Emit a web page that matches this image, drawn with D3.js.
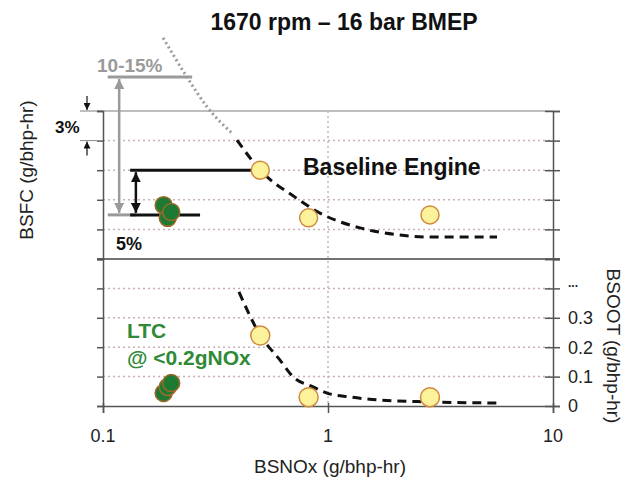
<!DOCTYPE html>
<html><head><meta charset="utf-8">
<script src="https://cdn.jsdelivr.net/npm/d3@7"></script>
<style>body{margin:0;background:#fff}svg{display:block;font-family:"Liberation Sans",Arial,sans-serif}</style>
</head><body><svg id="c" width="641" height="479"></svg>
<script>
// ---- data ----
const xTicks = [0.1, 1, 10];
const xTickLabels = ["0.1", "1", "10"];
const bsfcGrid = [0.31, 0.32, 0.33, 0.34, 0.35, 0.36];
const sootTicks = [0, 0.1, 0.2, 0.3, 0.4, 0.5];
const sootTickLabels = ["0", "0.1", "0.2", "0.3", "...", ""];
// baseline engine points
const baseNox = [0.5, 0.82, 2.84];
const baseBsfc = [0.340, 0.3239, 0.3249];
const baseSoot = [0.24, 0.03, 0.03];
// LTC points
const ltcNox = [0.186, 0.194, 0.201];
const ltcBsfc = [0.3282, 0.3239, 0.3259];
const ltcSoot = [0.044, 0.065, 0.078];
// trend curves
const bsfcCurveNox = [0.394, 0.5, 0.713, 0.921, 1.388, 2.09, 2.93, 5.64];
const bsfcCurveVal = [0.3502, 0.340, 0.3309, 0.3255, 0.3205, 0.3181, 0.3174, 0.3174];
const convCurveNox = [0.185, 0.236, 0.290, 0.378];
const convCurveVal = [0.3847, 0.3715, 0.3614, 0.3522];
const sootCurveNox = [0.402, 0.5, 0.612, 0.70, 0.858, 0.99, 1.25, 1.70, 2.84, 5.8];
const sootCurveVal = [0.388, 0.241, 0.156, 0.099, 0.065, 0.044, 0.031, 0.020, 0.014, 0.010];
// annotation levels
const convLevel = 0.3715;   // 10-15% level
const baseLevel = 0.340;
const ltcLevel = 0.3249;

// ---- scales ----
const svg = d3.select("#c");
svg.append("rect").attr("width", 641).attr("height", 479).attr("fill", "#fff");
const x = d3.scaleLog().domain([0.1, 10]).range([103, 553]);
const yT = d3.scaleLinear().domain([0.31, 0.36]).range([259, 111]);
const yB = d3.scaleLinear().domain([0, 0.5]).range([406, 259]);

const defs = svg.append("defs");
function mk(id, col, s) {
  defs.append("marker").attr("id", id).attr("viewBox", "0 0 10 10").attr("refX", 10).attr("refY", 5)
    .attr("markerWidth", s).attr("markerHeight", s).attr("markerUnits", "userSpaceOnUse").attr("orient", "auto-start-reverse")
    .append("path").attr("d", "M0,0L10,5L0,10Z").attr("fill", col);
}
mk("ag", "#9a9a9a", 10); mk("ab", "#111", 10); mk("as", "#111", 7);

// ---- grid ----
const gridCol = "#c9b1b1";
svg.append("g").selectAll("line").data(bsfcGrid.slice(1, 5)).join("line")
  .attr("x1", x(0.1)).attr("x2", x(10)).attr("y1", d => yT(d)).attr("y2", d => yT(d))
  .attr("stroke", gridCol).attr("stroke-width", 1.5).attr("stroke-dasharray", "2,3");
svg.append("g").selectAll("line").data(sootTicks.slice(1, 5)).join("line")
  .attr("x1", x(0.1)).attr("x2", x(10)).attr("y1", d => yB(d)).attr("y2", d => yB(d))
  .attr("stroke", gridCol).attr("stroke-width", 1.5).attr("stroke-dasharray", "2,3");
svg.append("line").attr("x1", x(1)).attr("x2", x(1)).attr("y1", yT(0.36)).attr("y2", yB(0))
  .attr("stroke", gridCol).attr("stroke-width", 1.5).attr("stroke-dasharray", "2,3");

// top border
svg.append("line").attr("x1", 80).attr("x2", x(10)).attr("y1", yT(0.36)).attr("y2", yT(0.36))
  .attr("stroke", "#a8a8a8").attr("stroke-width", 1.5);
// divider
svg.append("line").attr("x1", 97).attr("x2", 560).attr("y1", yT(0.31)).attr("y2", yT(0.31))
  .attr("stroke", "#444").attr("stroke-width", 1.5);

// ---- axes ----
const axCol = "#555";
const gl = svg.append("g").attr("transform", `translate(${x(0.1)},0)`)
  .call(d3.axisLeft(yT).tickValues(bsfcGrid).tickSize(6).tickFormat(""));
const gl2 = svg.append("g").attr("transform", `translate(${x(0.1)},0)`)
  .call(d3.axisLeft(yB).tickValues(sootTicks).tickSize(6).tickFormat(""));
const gr = svg.append("g").attr("transform", `translate(${x(10)},0)`)
  .call(d3.axisRight(yT).tickValues(bsfcGrid).tickSize(7).tickFormat(""));
const gr2 = svg.append("g").attr("transform", `translate(${x(10)},0)`)
  .call(d3.axisRight(yB).tickValues(sootTicks).tickSize(7).tickFormat(""));
[gr, gr2].forEach(g => g.selectAll(".tick line").attr("x1", -8));
const gb = svg.append("g").attr("transform", `translate(0,${yB(0)})`)
  .call(d3.axisBottom(x).tickValues(xTicks).tickSize(7).tickFormat(""));
[gl, gl2, gr, gr2, gb].forEach(g => {
  g.selectAll("path.domain").attr("stroke", axCol).attr("stroke-width", 1.5);
  g.selectAll(".tick line").attr("stroke", axCol).attr("stroke-width", 1.5);
});
gb.selectAll(".tick line").attr("y1", -3);
// tick labels
svg.append("g").selectAll("text").data(xTicks).join("text")
  .attr("x", d => x(d)).attr("y", 442).attr("text-anchor", "middle")
  .attr("font-size", 18).attr("fill", "#222").text((d, i) => xTickLabels[i]);
svg.append("g").selectAll("text").data(sootTicks).join("text")
  .attr("x", 568).attr("y", d => yB(d)).attr("dy", d => d === 0.4 ? "-0.1em" : "0.35em")
  .attr("font-size", d => d === 0.4 ? 12 : 18).attr("font-weight", d => d === 0.4 ? "bold" : "normal")
  .attr("fill", "#222").text((d, i) => sootTickLabels[i]);

// axis titles
svg.append("text").attr("x", 330).attr("y", 473).attr("text-anchor", "middle").attr("font-size", 19)
  .attr("fill", "#222").text("BSNOx (g/bhp-hr)");
svg.append("text").attr("transform", "translate(26,170) rotate(-90)").attr("text-anchor", "middle")
  .attr("dy", "0.35em").attr("font-size", 19).attr("fill", "#222").text("BSFC (g/bhp-hr)");
svg.append("text").attr("transform", "translate(614,346) rotate(90)").attr("text-anchor", "middle")
  .attr("dy", "0.35em").attr("font-size", 19).attr("fill", "#222").text("BSOOT (g/bhp-hr)");
svg.append("text").attr("x", 344).attr("y", 30).attr("text-anchor", "middle").attr("font-size", 23)
  .attr("font-weight", "bold").attr("fill", "#111").text("1670 rpm \u2013 16 bar BMEP");

// ---- curves ----
const lineT = d3.line().x(d => x(d[0])).y(d => yT(d[1])).curve(d3.curveMonotoneX);
const lineB = d3.line().x(d => x(d[0])).y(d => yB(d[1])).curve(d3.curveMonotoneX);
svg.append("path").attr("d", lineT(convCurveNox.map((v, i) => [v, convCurveVal[i]])))
  .attr("fill", "none").attr("stroke", "#9a9a9a").attr("stroke-width", 3).attr("stroke-dasharray", "2,3");
svg.append("path").attr("d", lineT(bsfcCurveNox.map((v, i) => [v, bsfcCurveVal[i]])))
  .attr("fill", "none").attr("stroke", "#111").attr("stroke-width", 3).attr("stroke-dasharray", "9,6");
svg.append("path").attr("d", lineB(sootCurveNox.map((v, i) => [v, sootCurveVal[i]])))
  .attr("fill", "none").attr("stroke", "#111").attr("stroke-width", 3).attr("stroke-dasharray", "9,6");

// ---- annotations ----
// grey 10-15%
svg.append("line").attr("x1", x(0.105)).attr("x2", x(0.249)).attr("y1", yT(convLevel)).attr("y2", yT(convLevel))
  .attr("stroke", "#9a9a9a").attr("stroke-width", 3);
svg.append("line").attr("x1", x(0.105)).attr("x2", x(0.14)).attr("y1", yT(ltcLevel)).attr("y2", yT(ltcLevel))
  .attr("stroke", "#9a9a9a").attr("stroke-width", 3);
svg.append("line").attr("x1", x(0.118)).attr("x2", x(0.118)).attr("y1", yT(convLevel) + 2).attr("y2", yT(ltcLevel) - 2)
  .attr("stroke", "#9a9a9a").attr("stroke-width", 2.5)
  .attr("marker-start", "url(#ag)").attr("marker-end", "url(#ag)");
svg.append("text").attr("x", 97).attr("y", 72).attr("font-size", 19).attr("font-weight", "bold")
  .attr("fill", "#9a9a9a").text("10-15%");
// black 5%
svg.append("line").attr("x1", x(0.132)).attr("x2", x(0.5)).attr("y1", yT(baseLevel)).attr("y2", yT(baseLevel))
  .attr("stroke", "#111").attr("stroke-width", 3);
svg.append("line").attr("x1", x(0.132)).attr("x2", x(0.27)).attr("y1", yT(ltcLevel)).attr("y2", yT(ltcLevel))
  .attr("stroke", "#111").attr("stroke-width", 3);
svg.append("line").attr("x1", x(0.14)).attr("x2", x(0.14)).attr("y1", yT(baseLevel) + 2).attr("y2", yT(ltcLevel) - 2)
  .attr("stroke", "#111").attr("stroke-width", 2.5)
  .attr("marker-start", "url(#ab)").attr("marker-end", "url(#ab)");
svg.append("text").attr("x", 116).attr("y", 250).attr("font-size", 18).attr("font-weight", "bold")
  .attr("fill", "#111").text("5%");
// 3%
svg.append("line").attr("x1", 80).attr("x2", 97).attr("y1", yT(0.35)).attr("y2", yT(0.35))
  .attr("stroke", "#888").attr("stroke-width", 1);
svg.append("line").attr("x1", 87).attr("x2", 87).attr("y1", yT(0.36) - 15).attr("y2", yT(0.36) - 1)
  .attr("stroke", "#111").attr("stroke-width", 1.2).attr("marker-end", "url(#as)");
svg.append("line").attr("x1", 87).attr("x2", 87).attr("y1", yT(0.35) + 15).attr("y2", yT(0.35) + 1)
  .attr("stroke", "#111").attr("stroke-width", 1.2).attr("marker-end", "url(#as)");
svg.append("text").attr("x", 55).attr("y", 133).attr("font-size", 17).attr("font-weight", "bold")
  .attr("fill", "#111").text("3%");

svg.append("text").attr("x", 303).attr("y", 175).attr("font-size", 23).attr("font-weight", "bold")
  .attr("fill", "#111").text("Baseline Engine");
svg.append("text").attr("x", 127).attr("y", 338).attr("font-size", 21).attr("font-weight", "bold")
  .attr("fill", "#2f8a36").text("LTC");
svg.append("text").attr("x", 127).attr("y", 365).attr("font-size", 21).attr("font-weight", "bold")
  .attr("fill", "#2f8a36").text("@ <0.2gNOx");

// ---- points ----
const yFill = "#fbf29b", yStroke = "#d08a40", gFill = "#1e7a33", gStroke = "#9a6a2a";
svg.append("g").selectAll("circle").data(ltcNox).join("circle")
  .attr("cx", d => x(d)).attr("cy", (d, i) => yT(ltcBsfc[i])).attr("r", 8.5)
  .attr("fill", gFill).attr("stroke", gStroke).attr("stroke-width", 1.5);
svg.append("g").selectAll("circle").data(ltcNox).join("circle")
  .attr("cx", d => x(d)).attr("cy", (d, i) => yB(ltcSoot[i])).attr("r", 8.5)
  .attr("fill", gFill).attr("stroke", gStroke).attr("stroke-width", 1.5);
svg.append("g").selectAll("circle").data(baseNox).join("circle")
  .attr("cx", d => x(d)).attr("cy", (d, i) => yT(baseBsfc[i])).attr("r", 9)
  .attr("fill", yFill).attr("stroke", yStroke).attr("stroke-width", 1.5);
svg.append("g").selectAll("circle").data(baseNox).join("circle")
  .attr("cx", d => x(d)).attr("cy", (d, i) => yB(baseSoot[i])).attr("r", 9.5)
  .attr("fill", yFill).attr("stroke", yStroke).attr("stroke-width", 1.5);
</script></body></html>
